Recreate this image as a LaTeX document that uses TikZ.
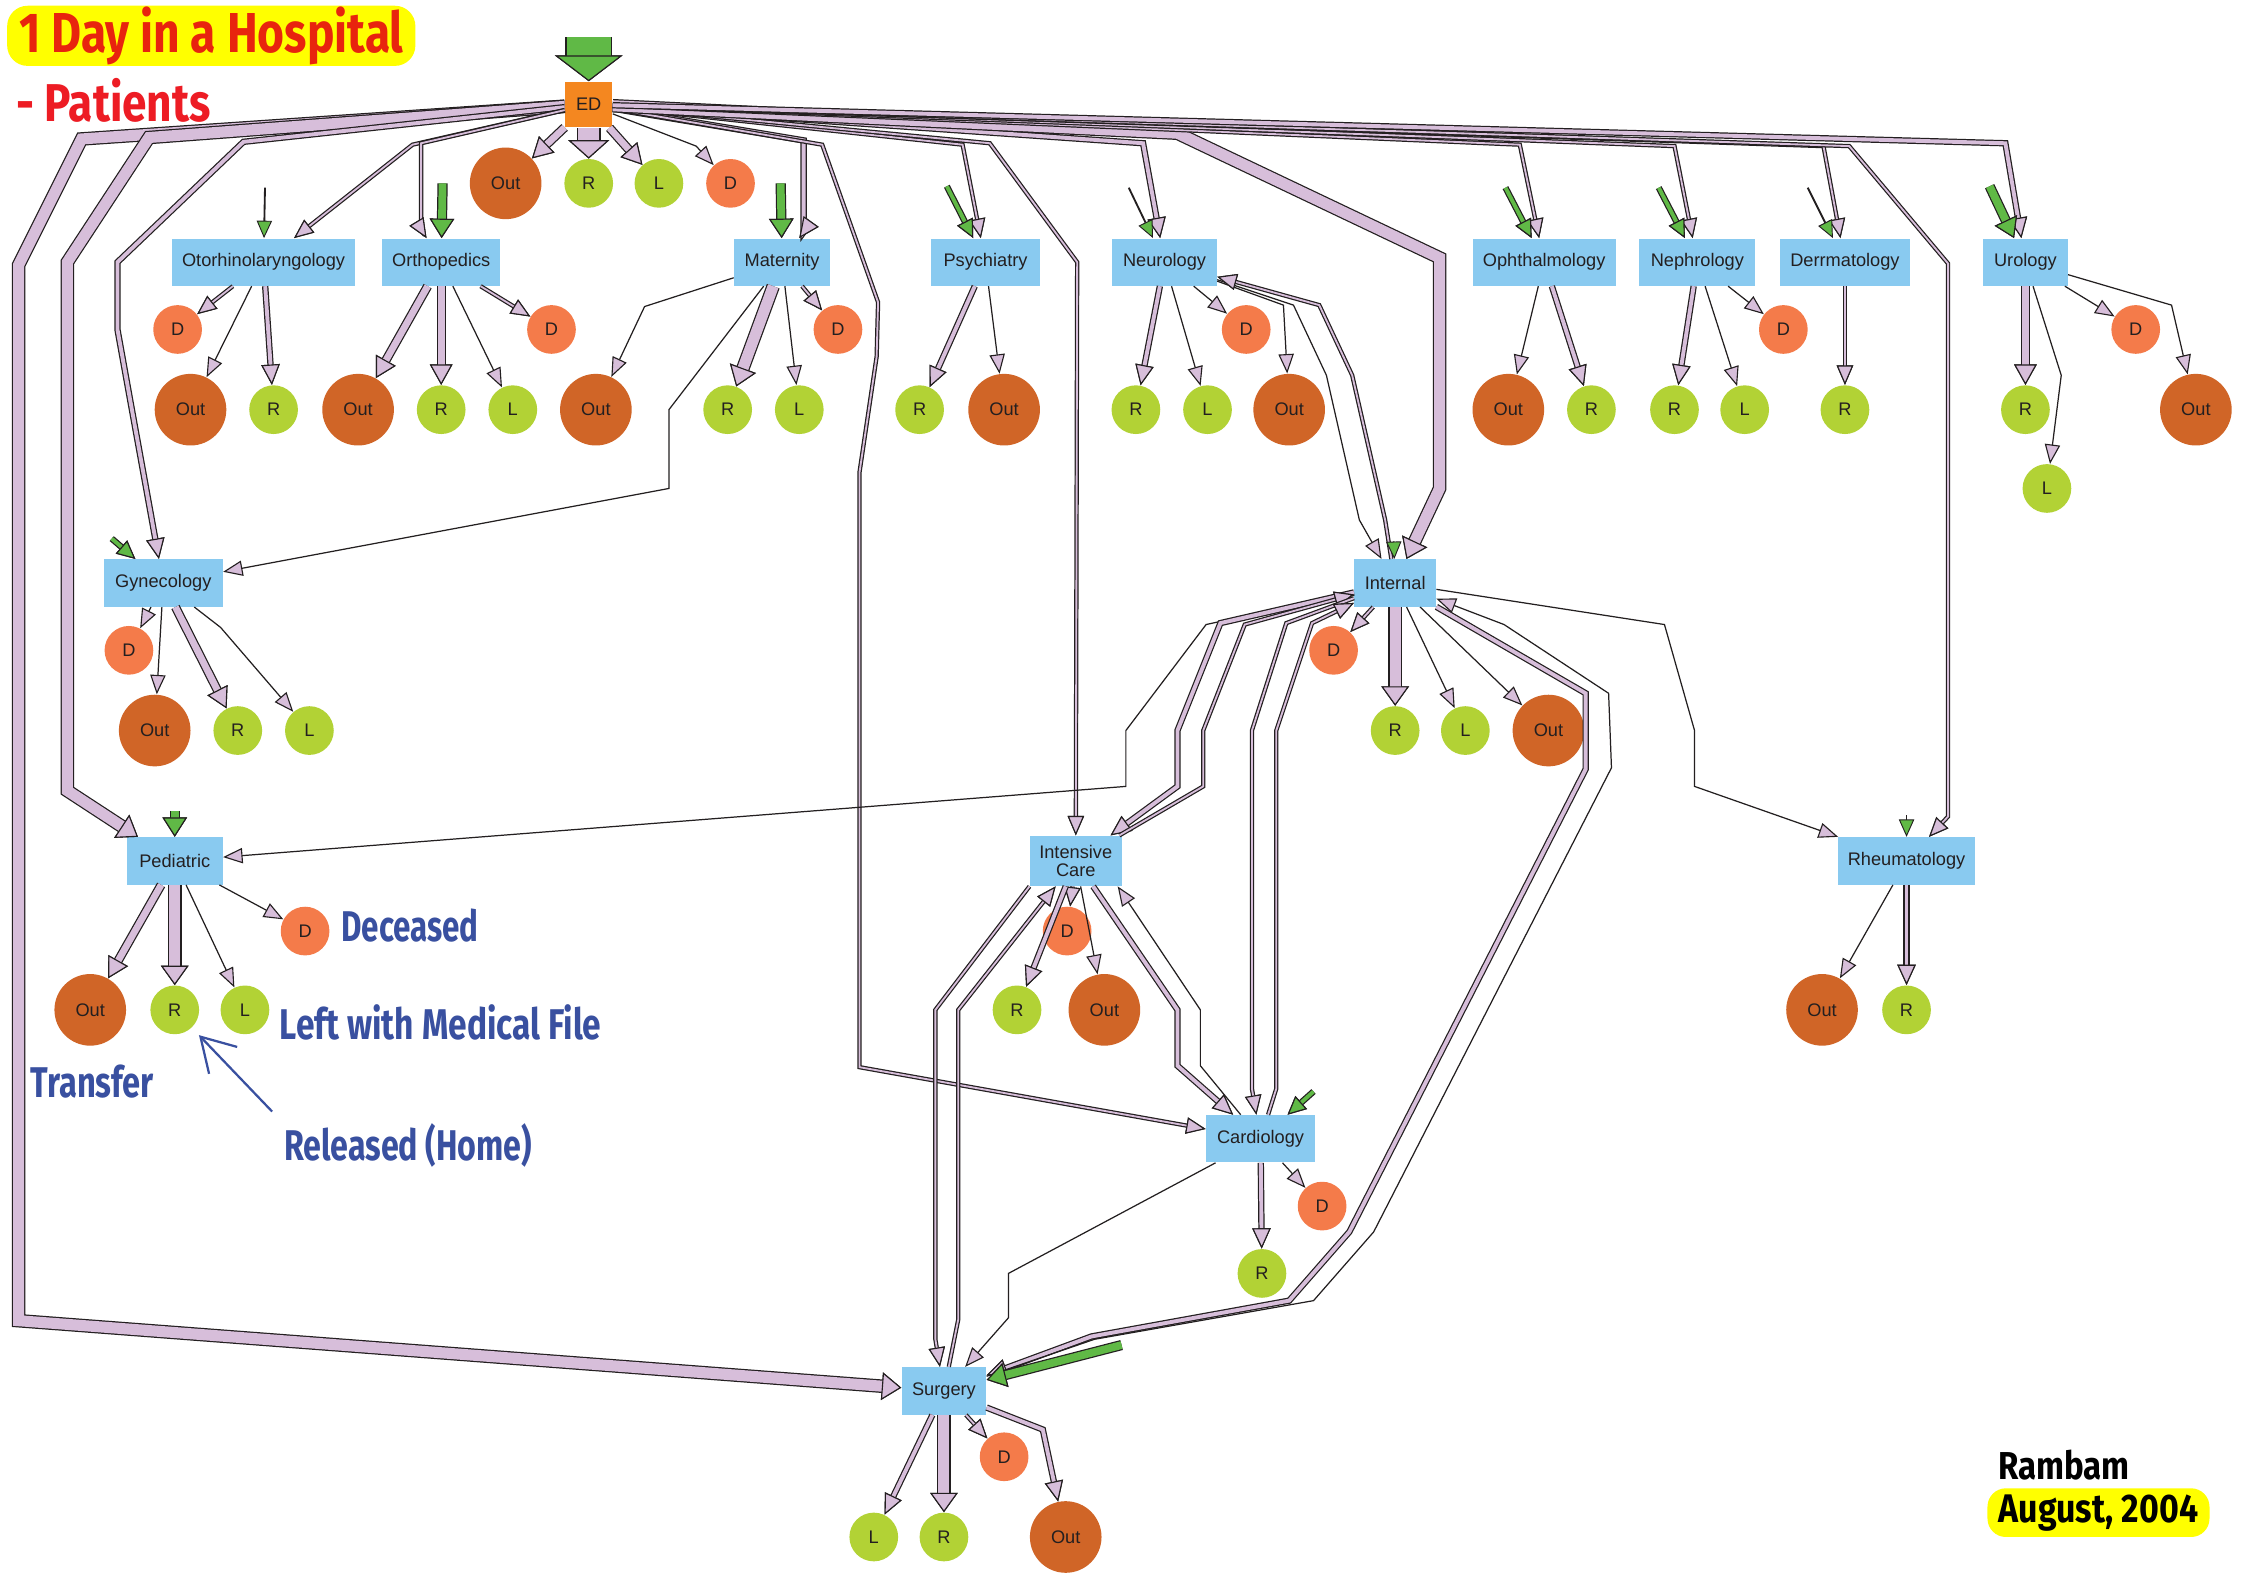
\documentclass[tikz,border=0pt]{standalone}
\usepackage{fontspec}
\setmainfont{Liberation Sans}
\newfontfamily\headfont{Fira Sans}
\usetikzlibrary{arrows.meta,calc}

\definecolor{deptblue}{RGB}{137,202,240}
\definecolor{edorange}{RGB}{244,135,32}
\definecolor{outc}{RGB}{208,101,39}
\definecolor{dc}{RGB}{244,123,74}
\definecolor{rlc}{RGB}{178,210,53}
\definecolor{lav}{RGB}{215,190,218}
\definecolor{grn}{RGB}{96,185,70}
\definecolor{ink}{RGB}{35,31,32}
\definecolor{txt}{RGB}{35,31,32}
\definecolor{annblue}{RGB}{57,80,160}
\definecolor{titlered}{RGB}{232,36,14}
\definecolor{patred}{RGB}{237,28,36}
\definecolor{hiyellow}{RGB}{255,255,0}

\newcommand\nfont{\fontsize{8.9}{10}\selectfont}
\newcommand\labfont{\headfont\bfseries\fontsize{21}{21}\selectfont}

\begin{document}
\begin{tikzpicture}[x=0.7pt,y=-0.7pt,
  base/.style={inner sep=0pt, text=txt, font=\nfont},
  dept/.style={base, rectangle, fill=deptblue, minimum height=23.1pt},
  ednode/.style={base, rectangle, fill=edorange, minimum width=23.1pt, minimum height=22.4pt},
  outnode/.style={base, circle, fill=outc, minimum size=35pt},
  dnode/.style={base, circle, fill=dc, minimum size=23.8pt},
  rlnode/.style={base, circle, fill=rlc, minimum size=23.8pt},
  % patient flows: lavender band with a dark outline and an outlined head
  w0/.style={draw=ink, line width=0.6pt, -{Triangle[length=9.5pt,width=7.5pt,fill=lav,color=ink,line width=0.55pt]}},
  w1/.style={draw=lav, line width=0.9pt, preaction={draw=ink, line width=2.1pt},
             -{Triangle[length=9.5pt,width=8pt,fill=lav,color=ink,line width=0.55pt]}},
  w2/.style={draw=lav, line width=1.9pt, preaction={draw=ink, line width=3.1pt},
             -{Triangle[length=10pt,width=9pt,fill=lav,color=ink,line width=0.55pt]}},
  w3/.style={draw=lav, line width=3.3pt, preaction={draw=ink, line width=4.5pt},
             -{Triangle[length=10pt,width=11pt,fill=lav,color=ink,line width=0.55pt]}},
  w4/.style={draw=lav, line width=5.4pt, preaction={draw=ink, line width=6.6pt},
             -{Triangle[length=9.5pt,width=13.5pt,fill=lav,color=ink,line width=0.55pt]}},
  w5/.style={draw=lav, line width=10.5pt, preaction={draw=ink, line width=11.7pt},
             -{Triangle[length=9pt,width=20pt,fill=lav,color=ink,line width=0.55pt]}},
  % admissions from outside
  gthick/.style={draw=grn, line width=3.8pt, preaction={draw=ink, line width=5pt},
             -{Triangle[length=9.5pt,width=12pt,fill=grn,color=ink,line width=0.55pt]}},
  gmid/.style={draw=grn, line width=1.9pt, preaction={draw=ink, line width=3.1pt},
             -{Triangle[length=9pt,width=8.5pt,fill=grn,color=ink,line width=0.55pt]}},
  gdark/.style={draw=ink, line width=0.9pt,
             -{Triangle[length=8.5pt,width=7.5pt,fill=grn,color=ink,line width=0.45pt]}},
  gbig/.style={draw=grn, line width=21.5pt, preaction={draw=ink, line width=22.7pt},
             -{Triangle[length=12.6pt,width=33pt,fill=grn,color=ink,line width=0.55pt]}},
  annot/.style={draw=annblue, line width=1.1pt, -{Straight Barb[length=16pt,width=19pt]}, shorten >=5pt},
  lbl/.style={text=annblue, inner sep=0pt, font=\labfont},
]
\fill[white] (0,0) rectangle (1568,1109);
\useasboundingbox (0,0) rectangle (1568,1109);

% ---------- headings ----------
\node[fill=hiyellow, rounded corners=10pt, minimum width=199.5pt, minimum height=29.4pt,
      inner sep=0pt, text=titlered, font=\headfont\bfseries\fontsize{27.5}{28}\selectfont]
      (title) at (147.5,25) {\scalebox{0.82}[1]{1 Day in a Hospital}};
\node[anchor=west, inner sep=0pt, text=patred, font=\headfont\bfseries\fontsize{26}{26}\selectfont]
      (subtitle) at (11,70) {\scalebox{0.83}[1]{- Patients}};
\node[inner sep=0pt, text=black, font=\headfont\bfseries\fontsize{19}{19}\selectfont]
      (place) at (1441,1023) {\scalebox{0.85}[1]{Rambam}};
\node[fill=hiyellow, rounded corners=9pt, minimum width=108.5pt, minimum height=23.8pt,
      inner sep=0pt, text=black, font=\headfont\bfseries\fontsize{19.5}{19.5}\selectfont]
      (date) at (1465,1056) {\scalebox{0.85}[1]{August, 2004}};

% ---------- emergency department ----------
\node[ednode] (ED) at (411,73) {ED};
\node[outnode] (edOut) at (353,128) {Out};
\node[rlnode] (edR) at (411,128) {R};
\node[rlnode] (edL) at (460,128) {L};
\node[dnode] (edD) at (510,128) {D};

% ---------- departments ----------
\node[dept, minimum width=89.6pt] (oto) at (184,183) {Otorhinolaryngology};
\node[dept, minimum width=57.4pt] (ort) at (308,183) {Orthopedics};
\node[dept, minimum width=46.9pt] (mat) at (546,183) {Maternity};
\node[dept, minimum width=53.2pt] (psy) at (688,183) {Psychiatry};
\node[dept, minimum width=51.1pt] (neu) at (813,183) {Neurology};
\node[dept, minimum width=70pt]   (oph) at (1078,183) {Ophthalmology};
\node[dept, minimum width=56.7pt] (nep) at (1185,183) {Nephrology};
\node[dept, minimum width=63.7pt] (der) at (1288,183) {Derrmatology};
\node[dept, minimum width=41.3pt] (uro) at (1414,183) {Urology};
\node[dept, minimum width=58.1pt] (gyn) at (114,407) {Gynecology};
\node[dept, minimum width=39.9pt] (int) at (974,407) {Internal};
\node[dept, minimum width=46.9pt] (ped) at (122,601) {Pediatric};
\node[dept, minimum width=44.8pt, minimum height=24.5pt, align=center] (icu) at (751,601) {Intensive\\[-1pt]Care};
\node[dept, minimum width=67.2pt] (rhe) at (1331,601) {Rheumatology};
\node[dept, minimum width=53.2pt] (car) at (880,795) {Cardiology};
\node[dept, minimum width=41.3pt] (sur) at (659,971) {Surgery};

% ---------- outcomes ----------
\node[dnode] (otoD) at (124,230) {D};
\node[dnode] (ortD) at (385,230) {D};
\node[dnode] (matD) at (585,230) {D};
\node[dnode] (neuD) at (870,230) {D};
\node[dnode] (nepD) at (1245,230) {D};
\node[dnode] (uroD) at (1491,230) {D};

\node[outnode] (otoOut) at (133,286) {Out};
\node[rlnode]  (otoR)   at (191,286) {R};
\node[outnode] (ortOut) at (250,286) {Out};
\node[rlnode]  (ortR)   at (308,286) {R};
\node[rlnode]  (ortL)   at (358,286) {L};
\node[outnode] (matOut) at (416,286) {Out};
\node[rlnode]  (matR)   at (508,286) {R};
\node[rlnode]  (matL)   at (558,286) {L};
\node[rlnode]  (psyR)   at (642,286) {R};
\node[outnode] (psyOut) at (701,286) {Out};
\node[rlnode]  (neuR)   at (793,286) {R};
\node[rlnode]  (neuL)   at (843,286) {L};
\node[outnode] (neuOut) at (900,286) {Out};
\node[outnode] (ophOut) at (1053,286) {Out};
\node[rlnode]  (ophR)   at (1111,286) {R};
\node[rlnode]  (nepR)   at (1169,286) {R};
\node[rlnode]  (nepL)   at (1218,286) {L};
\node[rlnode]  (derR)   at (1288,286) {R};
\node[rlnode]  (uroR)   at (1414,286) {R};
\node[outnode] (uroOut) at (1533,286) {Out};
\node[rlnode]  (uroL)   at (1429,341) {L};

\node[dnode]   (gynD)   at (90,454) {D};
\node[outnode] (gynOut) at (108,510) {Out};
\node[rlnode]  (gynR)   at (166,510) {R};
\node[rlnode]  (gynL)   at (216,510) {L};

\node[dnode]   (intD)   at (931,454) {D};
\node[rlnode]  (intR)   at (974,510) {R};
\node[rlnode]  (intL)   at (1023,510) {L};
\node[outnode] (intOut) at (1081,510) {Out};

\node[dnode]   (pedD)   at (213,650) {D};
\node[outnode] (pedOut) at (63,705) {Out};
\node[rlnode]  (pedR)   at (122,705) {R};
\node[rlnode]  (pedL)   at (171,705) {L};

\node[dnode]   (icuD)   at (745,650) {D};
\node[rlnode]  (icuR)   at (710,705) {R};
\node[outnode] (icuOut) at (771,705) {Out};

\node[outnode] (rheOut) at (1272,705) {Out};
\node[rlnode]  (rheR)   at (1331,705) {R};

\node[dnode]   (carD)   at (923,842) {D};
\node[rlnode]  (carR)   at (881,889) {R};

\node[dnode]   (surD)   at (701,1017) {D};
\node[rlnode]  (surL)   at (610,1073) {L};
\node[rlnode]  (surR)   at (659,1073) {R};
\node[outnode] (surOut) at (744,1073) {Out};

% ---------- legend labels ----------
\node[lbl, anchor=west] (lblDec)  at (238,646) {\scalebox{0.73}[1]{Deceased}};
\node[lbl, anchor=west] (lblLeft) at (195,714) {\scalebox{0.78}[1]{Left with Medical File}};
\node[lbl, anchor=west] (lblTr)   at (21,755)  {\scalebox{0.76}[1]{Transfer}};
\node[lbl, anchor=west] (lblRel)  at (198,800) {\scalebox{0.75}[1]{Released (Home)}};
\coordinate (relTail) at (190,776);
\draw[annot] (relTail) -- (pedR);

% ---------- flows out of ED ----------
\draw[w3] (ED) -- (edOut);
\draw[w5] (ED) -- (edR);
\draw[w3] (ED) -- (edL);
\draw[w0] (ED) -- (486,102) -- (edD);
\draw[w4] (ED) -- (57,97) -- (13,185) -- (13,922) -- (sur);
\draw[w4] (ED) -- (104,96) -- (47,183) -- (47,552) -- (ped);
\draw[w2] (ED) -- (170,99) -- (82,183) -- (82,230) -- (91,280) -- (gyn);
\draw[w1] (ED) -- (288,101) -- (oto);
\draw[w1] (ED) -- (294,100) -- (294,160) -- (ort);
\draw[w2] (ED) -- (561,98) -- (561,162) -- (mat);
\draw[w1] (ED) -- (574,101) -- (613,211) -- (612,249) -- (600,330) -- (600,745) -- (car);
\draw[w1] (ED) -- (672,101) -- (psy);
\draw[w1] (ED) -- (691,100) -- (752,183) -- (icu);
\draw[w2] (ED) -- (798,100) -- (neu);
\draw[w4] (ED) -- (822,93) -- (1005,180) -- (1005,341) -- (int);
\draw[w1] (ED) -- (1061,101) -- (oph);
\draw[w1] (ED) -- (1169,102) -- (nep);
\draw[w1] (ED) -- (1273,102) -- (der);
\draw[w1] (ED) -- (1291,102) -- (1360,184) -- (1360,570) -- (rhe);
\draw[w2] (ED) -- (1400,100) -- (uro);

% ---------- department outcomes ----------
\draw[w1] (oto) -- (otoD);
\draw[w0] (oto) -- (otoOut);
\draw[w2] (oto) -- (otoR);

\draw[w3] (ort) -- (ortOut);
\draw[w3] (ort) -- (ortR);
\draw[w0] (ort) -- (ortL);
\draw[w1] (ort) -- (ortD);

\draw[w0] (mat) -- (450,214) -- (matOut);
\draw[w0] (mat) -- (467,286) -- (467,341) -- (gyn);
\draw[w4] (mat) -- (matR);
\draw[w0] (mat) -- (matL);
\draw[w1] (mat) -- (matD);

\draw[w2] (psy) -- (psyR);
\draw[w0] (psy) -- (psyOut);

\draw[w2] (neu) -- (neuR);
\draw[w0] (neu) -- (neuL);
\draw[w0] (neu) -- (neuD);
\draw[w0] (neu) -- (896,213) -- (neuOut);
\draw[w0] (neu) -- (903,213) -- (926,262) -- (949,363) -- (int);
\draw[w1] (int) -- (967,363) -- (944,262) -- (921,213) -- (neu);

\draw[w0] (oph) -- (ophOut);
\draw[w2] (oph) -- (ophR);

\draw[w2] (nep) -- (nepR);
\draw[w0] (nep) -- (nepL);
\draw[w0] (nep) -- (nepD);

\draw[w1] (der) -- (derR);

\draw[w3] (uro) -- (uroR);
\draw[w0] (uro) -- (1439,262) -- (uroL);
\draw[w0] (uro) -- (uroD);
\draw[w0] (uro) -- (1516,213) -- (uroOut);

\draw[w0] (gyn) -- (gynD);
\draw[w0] (gyn) -- (gynOut);
\draw[w3] (gyn) -- (gynR);
\draw[w0] (gyn) -- (154,438) -- (gynL);

\draw[w3] (ped) -- (pedOut);
\draw[w4] (ped) -- (pedR);
\draw[w0] (ped) -- (pedL);
\draw[w0] (ped) -- (pedD);

\draw[w1] (int) -- (intD);
\draw[w4] (int) -- (intR);
\draw[w0] (int) -- (intL);
\draw[w0] (int) -- (intOut);
\draw[w0] (int) -- (842,436) -- (786,510) -- (786,549) -- (ped);
\draw[w2] (int) -- (852,435) -- (822,510) -- (822,549) -- (icu);
\draw[w1] (icu) -- (840,549) -- (840,510) -- (869,436) -- (int);
\draw[w1] (int) -- (898,435) -- (874,510) -- (874,760) -- (car);
\draw[w1] (car) -- (891,760) -- (891,510) -- (916,435) -- (int);
\draw[w2] (int) -- (1107,484) -- (1107,537) -- (942,860) -- (900,908) -- (762,933) -- (sur);
\draw[w0] (sur) -- (764,935) -- (917,908) -- (959,860) -- (1125,536) -- (1123,484) -- (1050,436) -- (int);
\draw[w0] (int) -- (1162,436) -- (1183,510) -- (1183,549) -- (rhe);

\draw[w1] (icu) -- (icuD);
\draw[w2] (icu) -- (icuR);
\draw[w0] (icu) -- (icuOut);
\draw[w2] (icu) -- (822,705) -- (822,744) -- (car);
\draw[w0] (car) -- (838,744) -- (838,705) -- ($(icu.south east)+(-3,0)$);
\draw[w1] (icu.south west) -- (653,705) -- (653,935) -- (sur);
\draw[w1] (sur) -- (669,921) -- (669,705) -- (icu);

\draw[w0] (car) -- (carD);
\draw[w2] (car) -- (carR);
\draw[w0] (car) -- (704,889) -- (704,920) -- (sur);

\draw[w0] (rhe) -- (rheOut);
\draw[w2] (rhe) -- (rheR);

\draw[w2] (sur) -- (surL);
\draw[w4] (sur) -- (surR);
\draw[w1] (sur) -- (surD);
\draw[w2] (sur) -- (728,998) -- (surOut);

% ---------- admissions from outside ----------
\coordinate (inED)  at (411,26);
\coordinate (inOto) at (185,131);
\coordinate (inOrt) at (309,128);
\coordinate (inMat) at (545,128);
\coordinate (inPsy) at (661,130);
\coordinate (inNeu) at (788,131);
\coordinate (inOph) at (1051,131);
\coordinate (inNep) at (1158,131);
\coordinate (inDer) at (1262,131);
\coordinate (inUro) at (1389,130);
\coordinate (inGyn) at (78,376);
\coordinate (inPed) at (122,566);
\coordinate (inInt) at (973,378);
\coordinate (inRhe) at (1331,569);
\coordinate (inCar) at (917,762);
\coordinate (inSur) at (783,939);

\draw[gbig]   (inED)  -- (ED);
\draw[gdark]  (inOto) -- (oto);
\draw[gthick] (inOrt) -- (ort);
\draw[gthick] (inMat) -- (mat);
\draw[gmid]   (inPsy) -- (psy);
\draw[gdark]  (inNeu) -- (neu);
\draw[gmid]   (inOph) -- (oph);
\draw[gmid]   (inNep) -- (nep);
\draw[gdark]  (inDer) -- (der);
\draw[gthick] (inUro) -- (uro);
\draw[gmid]   (inGyn) -- (gyn);
\draw[gthick] (inPed) -- (ped);
\draw[gdark]  (inInt) -- (int);
\draw[gdark]  (inRhe) -- (rhe);
\draw[gmid]   (inCar) -- (car);
\draw[gthick] (inSur) -- (sur);
\end{tikzpicture}
\end{document}
